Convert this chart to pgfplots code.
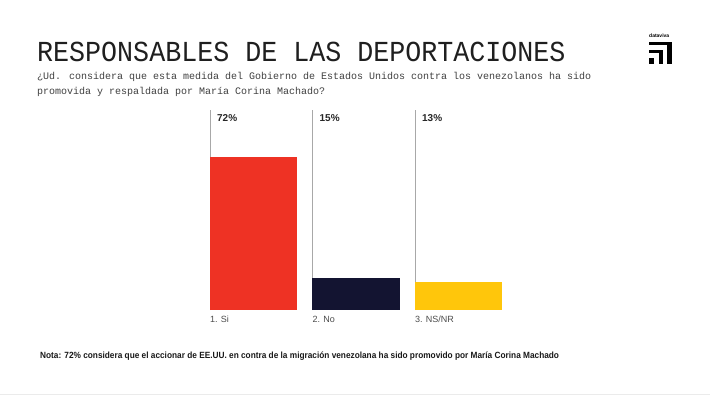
\documentclass[border=0pt]{standalone}
\usepackage{pgfplots}
\pgfplotsset{compat=1.18}
\usepackage{fontspec}
\setmainfont{Liberation Sans}
\newfontfamily\titlefont[FakeStretch=0.92]{Liberation Mono}
\newfontfamily\subfont{Liberation Mono}
\newfontfamily\notefont[FakeStretch=0.92]{Liberation Sans}
\definecolor{barred}{HTML}{EE3224}
\definecolor{barnavy}{HTML}{131431}
\definecolor{baryellow}{HTML}{FFC60B}
\definecolor{linegray}{HTML}{A8A8A8}
\begin{document}
\begin{tikzpicture}[x=1pt,y=1pt]
\fill[white] (0,0) rectangle (710,397);
\path[use as bounding box] (0,0) rectangle (710,397);
% title
\node[anchor=base west, inner sep=0, text=black!88, font=\titlefont\fontsize{29}{29}\selectfont] at (37,397-62) {RESPONSABLES DE LAS DEPORTACIONES};
\node[anchor=base west, inner sep=0, text=black!75, font=\subfont\fontsize{10}{10}\selectfont, align=left] at (37,397-80) {¿Ud. considera que esta medida del Gobierno de Estados Unidos contra los venezolanos ha sido};
\node[anchor=base west, inner sep=0, text=black!75, font=\subfont\fontsize{10}{10}\selectfont, align=left] at (37,397-95) {promovida y respaldada por María Corina Machado?};
% logo
\node[anchor=base west, inner sep=0, font=\bfseries\fontsize{5}{5}\selectfont] at (649,397-38) {dataviva};
\fill[black] (649,397-42) rectangle (672,397-45);
\fill[black] (667,397-42) rectangle (672,397-64);
\fill[black] (649,397-50) rectangle (663,397-53);
\fill[black] (659,397-50) rectangle (663,397-64);
\fill[black] (649,397-58) rectangle (654,397-64);
% note
\node[anchor=west, inner sep=0, font=\notefont\bfseries\fontsize{9}{9}\selectfont, text=black!90] at (40,397-356) {Nota: 72\% considera que el accionar de EE.UU. en contra de la migración venezolana ha sido promovido por María Corina Machado};
\draw[black!8, line width=1pt] (0,397-394) -- (710,397-394);
\begin{axis}[at={(202.25pt,87pt)}, anchor=south west, scale only axis,
  width=307.5pt, height=200pt, xmin=-0.5, xmax=2.5, ymin=0, ymax=94,
  axis line style={draw=none}, ytick=\empty,
  xtick={-0.425,0.575,1.575}, xticklabels={1. Si, 2. No, 3. NS/NR},
  major tick length=0pt,
  xticklabel style={anchor=north west, inner sep=0pt, yshift=-6pt, text=black!70, font=\fontsize{9}{9}\selectfont},
  clip=false]
\addplot[linegray, line width=0.8pt] coordinates {(-0.425,0) (-0.425,94)};
\addplot[linegray, line width=0.8pt] coordinates {(0.575,0) (0.575,94)};
\addplot[linegray, line width=0.8pt] coordinates {(1.575,0) (1.575,94)};
\addplot[ybar, bar width=0.85, bar shift=0pt, fill=barred, draw=none] coordinates {(0,72)};
\addplot[ybar, bar width=0.85, bar shift=0pt, fill=barnavy, draw=none] coordinates {(1,15)};
\addplot[ybar, bar width=0.85, bar shift=0pt, fill=baryellow, draw=none] coordinates {(2,13)};
\node[anchor=west, inner sep=0, xshift=7pt, font=\bfseries\fontsize{10}{10}\selectfont, text=black!85] at (axis cs:-0.425,90.35) {72\%};
\node[anchor=west, inner sep=0, xshift=7pt, font=\bfseries\fontsize{10}{10}\selectfont, text=black!85] at (axis cs:0.575,90.35) {15\%};
\node[anchor=west, inner sep=0, xshift=7pt, font=\bfseries\fontsize{10}{10}\selectfont, text=black!85] at (axis cs:1.575,90.35) {13\%};
\end{axis}
\end{tikzpicture}
\end{document}
